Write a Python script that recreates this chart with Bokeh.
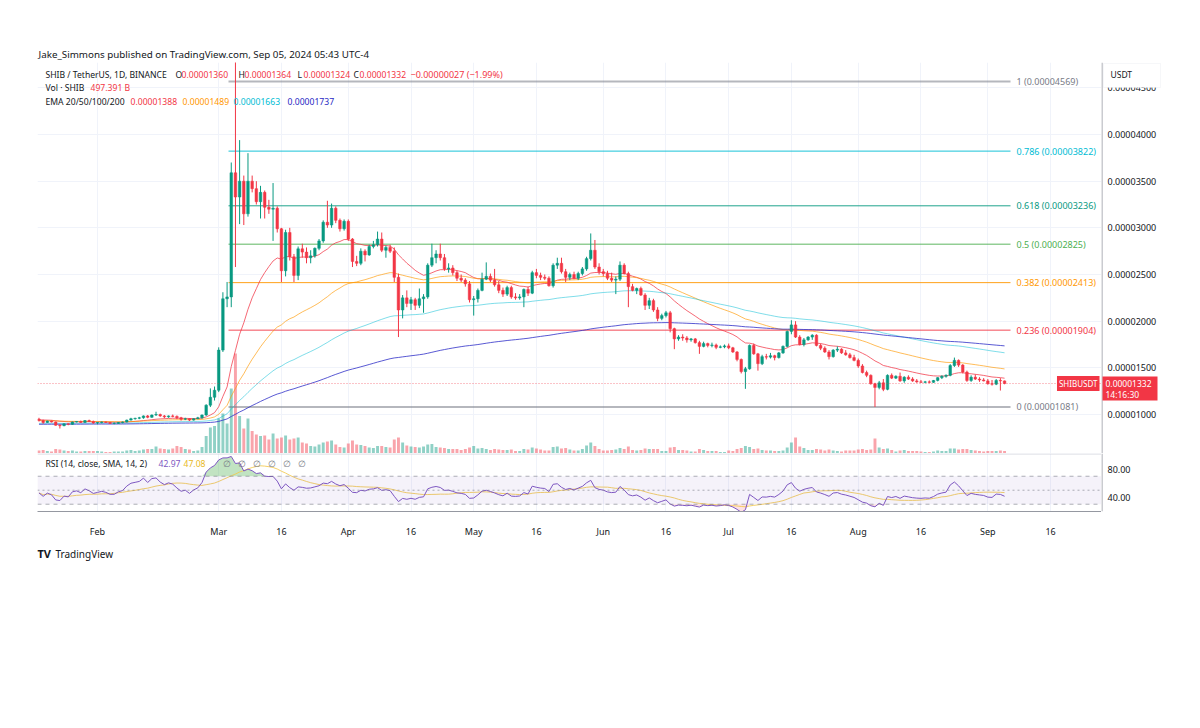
import numpy as np
import pandas as pd
from bokeh.plotting import figure
from bokeh.models import (Range1d, FixedTicker, Label, Span, BoxAnnotation, Grid,
                          ColumnDataSource)
from bokeh.core.properties import value
from bokeh.layouts import column, row
from bokeh.embed import file_html
from bokeh.resources import INLINE

S = 1e-8  # prices below are in units of 0.00000001 USDT

# ---------------- DATA (daily SHIB/USDT candles, O,H,L,C) ----------------
jan_ohlc = [(950,965,925,935),(935,945,900,915),(915,935,910,930),(930,935,915,920),(920,925,880,885),
            (885,895,850,880),(880,905,875,900),(900,905,885,895),(895,925,890,920),(920,930,915,925),
            (925,935,910,915),(915,940,910,935),(935,945,920,925),(925,935,900,910)]
feb_ohlc = [(910,920,895,915),(915,925,905,920),(920,925,910,915),(915,920,900,905),(905,915,895,905),
            (905,920,900,915),(915,925,905,920),(920,945,915,940),(940,965,935,955),(955,965,945,960),
            (960,975,950,965),(965,990,955,985),(985,995,960,970),(970,1000,965,995),(995,1030,985,1000),
            (1000,1010,975,985),(985,995,960,975),(975,990,965,985),(985,1000,970,980),(980,990,950,965),
            (965,975,935,950),(950,965,940,955),(955,960,930,940),(940,960,935,955),(955,975,950,965),
            (965,1000,955,995),(995,1110,985,1100),(1100,1280,1080,1185),(1185,1300,1150,1260)]
mar_ohlc = [(1260,1720,1240,1690),(1690,2310,1670,2240),(2240,2420,2150,2260),(2260,3700,2150,3590),
            (3590,4800,2580,3330),(3330,3940,3040,3500),(3500,3560,3030,3150),(3150,3800,3120,3500),
            (3500,3560,3380,3420),(3420,3500,3250,3280),(3280,3450,3100,3380),(3380,3400,3100,3220),
            (3220,3300,3150,3200),(3200,3480,2860,3210),(3210,3230,2950,2990),(2990,3000,2420,2540),
            (2540,2980,2480,2950),(2950,3000,2650,2690),(2690,2720,2420,2490),(2490,2800,2440,2775),
            (2775,2830,2680,2740),(2740,2790,2620,2680),(2680,2760,2620,2700),(2700,2790,2680,2780),
            (2780,2880,2760,2860),(2860,3080,2840,3060),(3060,3290,3000,3030),(3030,3260,3000,3210),
            (3210,3230,3050,3080),(3080,3100,2960,2990),(2990,3090,2970,3070)]
apr_ohlc = [(3070,3090,2860,2880),(2880,2890,2580,2640),(2640,2700,2590,2620),(2620,2780,2600,2750),
            (2750,2770,2640,2710),(2710,2820,2700,2800),(2800,2860,2780,2820),(2820,2960,2800,2880),
            (2880,2950,2740,2760),(2760,2810,2680,2790),(2790,2820,2730,2750),(2750,2790,2420,2470),
            (2470,2510,1830,2120),(2120,2280,2030,2250),(2250,2330,2150,2190),(2190,2260,2120,2230),
            (2230,2250,2120,2170),(2170,2350,2140,2240),(2240,2290,2090,2260),(2260,2620,2240,2600),
            (2600,2830,2580,2680),(2680,2760,2620,2720),(2720,2830,2650,2680),(2680,2720,2540,2560),
            (2560,2620,2520,2570),(2570,2600,2490,2520),(2520,2540,2430,2460),(2460,2500,2420,2440),
            (2440,2460,2370,2400),(2400,2430,2200,2230)]
may_ohlc = [(2230,2270,2060,2240),(2240,2350,2200,2330),(2330,2520,2320,2450),(2450,2630,2440,2480),
            (2480,2510,2420,2440),(2440,2560,2370,2390),(2390,2430,2300,2330),(2330,2360,2260,2290),
            (2290,2380,2270,2360),(2360,2380,2240,2260),(2260,2300,2230,2250),(2250,2290,2230,2260),
            (2260,2350,2150,2340),(2340,2370,2270,2300),(2300,2540,2290,2520),(2520,2560,2460,2490),
            (2490,2520,2440,2470),(2470,2500,2440,2460),(2460,2480,2370,2380),(2380,2620,2360,2600),
            (2600,2680,2560,2620),(2620,2680,2510,2530),(2530,2560,2420,2470),(2470,2520,2440,2500),
            (2500,2530,2450,2460),(2460,2530,2440,2510),(2510,2580,2490,2560),(2560,2690,2540,2670),
            (2670,2940,2650,2760),(2760,2870,2560,2580),(2580,2620,2500,2530)]
jun_ohlc = [(2530,2560,2480,2510),(2510,2540,2440,2460),(2460,2520,2420,2440),(2440,2480,2290,2450),
            (2450,2640,2430,2600),(2600,2620,2500,2510),(2510,2530,2150,2370),(2370,2400,2320,2330),
            (2330,2360,2290,2350),(2350,2370,2270,2280),(2280,2300,2120,2170),(2170,2250,2130,2220),
            (2220,2240,2100,2120),(2120,2150,2000,2030),(2030,2080,2010,2060),(2060,2110,2040,2090),
            (2090,2110,1880,1920),(1920,1930,1700,1810),(1810,1850,1790,1830),(1830,1860,1790,1820),
            (1820,1840,1770,1800),(1800,1820,1780,1810),(1810,1820,1760,1770),(1770,1790,1650,1730),
            (1730,1780,1720,1760),(1760,1770,1720,1740),(1740,1770,1720,1745),(1745,1760,1700,1720),
            (1720,1740,1710,1725),(1725,1750,1710,1735)]
jul_ohlc = [(1735,1760,1700,1715),(1715,1725,1660,1670),(1670,1680,1570,1590),(1590,1600,1440,1460),
            (1460,1510,1275,1490),(1490,1750,1480,1740),(1740,1760,1640,1650),(1650,1660,1470,1545),
            (1545,1640,1530,1620),(1620,1650,1590,1615),(1615,1660,1600,1630),(1630,1640,1580,1610),
            (1610,1670,1600,1660),(1660,1740,1650,1730),(1730,1900,1720,1890),(1890,2010,1860,1960),
            (1960,2000,1820,1830),(1830,1850,1740,1750),(1750,1820,1730,1800),(1800,1840,1790,1830),
            (1830,1860,1800,1850),(1850,1860,1730,1740),(1740,1760,1690,1710),(1710,1730,1660,1670),
            (1670,1690,1590,1620),(1620,1700,1610,1690),(1690,1730,1670,1700),(1700,1710,1650,1660),
            (1660,1690,1630,1640),(1640,1660,1600,1610),(1610,1640,1570,1580)]
aug_ohlc = [(1580,1600,1500,1520),(1520,1540,1440,1450),(1450,1470,1400,1420),(1420,1430,1320,1330),
            (1330,1340,1081,1290),(1290,1360,1270,1340),(1340,1380,1250,1270),(1270,1430,1260,1420),
            (1420,1440,1380,1390),(1390,1420,1380,1410),(1410,1450,1350,1360),(1360,1410,1340,1400),
            (1400,1420,1370,1380),(1380,1400,1350,1360),(1360,1380,1340,1350),(1350,1370,1340,1345),
            (1345,1360,1335,1350),(1350,1365,1335,1345),(1345,1370,1340,1365),(1365,1400,1355,1395),
            (1395,1420,1380,1410),(1410,1430,1395,1420),(1420,1540,1410,1525),(1525,1610,1510,1580),
            (1580,1590,1510,1530),(1530,1540,1440,1455),(1455,1470,1350,1365),(1365,1420,1350,1400),
            (1400,1430,1370,1380),(1380,1400,1350,1370),(1370,1390,1355,1360)]
sep_ohlc = [(1360,1380,1320,1330),(1330,1370,1310,1325),(1325,1380,1315,1365),(1365,1390,1257,1360),
            (1360,1364,1324,1332)]

# daily volume, billions of SHIB
jan_vol = [600,700,500,400,900,800,600,500,600,400,400,500,500,500]
feb_vol = [500,400,300,300,400,400,400,600,700,500,600,800,900,900,1400,1000,900,800,1000,1500,
           1300,900,800,500,600,1300,3500,5200,5500]
mar_vol = [7000,8000,6000,13000,20000,7500,5000,7000,4500,3800,3500,3600,2800,4000,3000,3200,3600,
           2800,3000,3200,2200,2000,1500,1400,1800,2200,2400,2600,1800,1300,1200]
apr_vol = [2000,2600,1800,1700,1500,1200,1100,1500,1500,1300,1200,2800,3200,2200,1600,1400,1300,
           1200,1400,1800,1900,1300,1200,1100,900,900,900,700,900,1200]
may_vol = [1500,1000,1100,900,700,900,800,700,700,800,500,500,900,800,1200,1000,800,600,600,1300,
           1400,1000,1100,800,600,600,900,1600,2200,1500,900]
jun_vol = [600,600,700,800,1100,900,1400,700,600,700,1000,900,900,900,500,500,1200,1300,700,700,
           600,400,400,900,700,500,500,500,300,300]
jul_vol = [600,500,900,1100,1500,1300,900,1000,700,600,600,500,500,600,1200,2200,3200,1400,1100,700,
           700,900,800,600,800,600,500,400,600,600,600]
aug_vol = [800,900,700,800,3000,1200,900,1000,700,400,600,700,500,500,500,400,300,300,400,600,
           500,500,1000,1000,800,900,900,700,600,500,400]
sep_vol = [500,500,500,600,497.391]

fib_ratios = ["1", "0.786", "0.618", "0.5", "0.382", "0.236", "0"]
fib_values = [4569, 3822, 3236, 2825, 2413, 1904, 1081]
fib_colors = ["#787b86", "#00bcd4", "#089981", "#4caf50", "#ff9800", "#f23645", "#787b86"]

tick_dates = ["2024-02-01", "2024-03-01", "2024-03-16", "2024-04-01", "2024-04-16", "2024-05-01",
              "2024-05-16", "2024-06-01", "2024-06-16", "2024-07-01", "2024-07-16", "2024-08-01",
              "2024-08-16", "2024-09-01", "2024-09-16"]
tick_labels = ["Feb", "Mar", "16", "Apr", "16", "May", "16", "Jun", "16", "Jul", "16", "Aug", "16",
               "Sep", "16"]
price_ticks = [1000, 1500, 2000, 2500, 3000, 3500, 4000, 4500]
rsi_ticks = [40, 80]

# ---------------- derived series ----------------
ohlc = jan_ohlc + feb_ohlc + mar_ohlc + apr_ohlc + may_ohlc + jun_ohlc + jul_ohlc + aug_ohlc + sep_ohlc
vol = jan_vol + feb_vol + mar_vol + apr_vol + may_vol + jun_vol + jul_vol + aug_vol + sep_vol
dates = pd.date_range("2024-01-18", periods=len(ohlc), freq="D")
origin = pd.Timestamp("2024-02-01")
day = np.array((dates - origin).days, dtype=float)
o = np.array([r[0] for r in ohlc], float)
h = np.array([r[1] for r in ohlc], float)
l = np.array([r[2] for r in ohlc], float)
c = np.array([r[3] for r in ohlc], float)
UPC, DNC = "#089981", "#f23645"
colors = [UPC if cc >= oo else DNC for oo, cc in zip(o, c)]


def ema(vals, n, seed):
    a = 2.0 / (n + 1)
    e, out = seed, []
    for v in vals:
        e = a * v + (1 - a) * e
        out.append(e)
    return np.array(out)


ema_specs = [(20, 945, "#f23645", 0.75), (50, 935, "#ff9800", 0.65),
             (100, 905, "#00bcd4", 0.5), (200, 895, "#3030c8", 0.8)]

# RSI 14 (Wilder) + SMA 14
g, ls = 6.0, 7.0
rsi = [100 - 100 / (1 + g / ls)]
for i in range(1, len(c)):
    ch = c[i] - c[i - 1]
    g = (g * 13 + max(ch, 0)) / 14
    ls = (ls * 13 + max(-ch, 0)) / 14
    rsi.append(100 - 100 / (1 + g / ls))
rsi = np.array(rsi)
rsi_sma = pd.Series(rsi).rolling(14, min_periods=1).mean().values

# ---------------- layout helpers (page pixels -> data) ----------------
X0_PX, PX_DAY = 97.0, 4.18
AX_X0 = 1101  # left edge of the price-scale column


def day_at(xp):
    return (xp - X0_PX) / PX_DAY


def price_at(yp):
    return (4000 - (yp - 134) * 500 / 46.67) * S


def rsi_at(yp):
    return 70 - (yp - 477.7) / 0.76


FONT = "Noto Sans"
TXT = "#131722"
HDR = "8.6px"
tick_days = [int((pd.Timestamp(t) - origin).days) for t in tick_dates]
COMMON = dict(output_backend="svg", toolbar_location=None)


def ptxt(fig, x, y, text, color=TXT, size=HDR, align="left", **kw):
    fig.add_layout(Label(x=x, y=y, text=text, text_color=color, text_font_size=size,
                         text_font=FONT, text_baseline="middle", text_align=align, **kw))


def clean(fig):
    fig.outline_line_color = None
    fig.xgrid.visible = False
    fig.ygrid.visible = False
    fig.background_fill_color = "white"
    fig.border_fill_color = "white"


# ---------------- main price pane ----------------
p = figure(width=AX_X0, height=453, x_range=Range1d(day_at(37), day_at(AX_X0)),
           y_range=Range1d(price_at(453), price_at(62)), x_axis_location=None,
           y_axis_location=None, min_border_left=37, min_border_right=0, min_border_top=62,
           min_border_bottom=0, title="Jake_Simmons published on TradingView.com, Sep 05, 2024 05:43 UTC-4",
           **COMMON)
clean(p)
p.title.align = "left"
p.title.offset = 1
p.title.standoff = 3
p.title.text_font = FONT
p.title.text_font_size = "9.8px"
p.title.text_font_style = "normal"
p.title.text_color = TXT
p.add_layout(Grid(dimension=0, ticker=FixedTicker(ticks=tick_days), grid_line_color="#f0f3fa"))
p.add_layout(Grid(dimension=1, ticker=FixedTicker(ticks=[t * S for t in price_ticks]),
                  grid_line_color="#f0f3fa"))

p.extra_y_ranges = {"vol": Range1d(0, 391 * 200)}
src = ColumnDataSource(dict(x=day, o=o * S, h=h * S, l=l * S, c=c * S,
                            top=np.maximum(o, c) * S, bottom=np.minimum(o, c) * S,
                            color=colors, vol=vol))
p.vbar(x="x", width=0.7, top="vol", bottom=0, fill_color="color", fill_alpha=0.45,
       line_color=None, y_range_name="vol", source=src)

FIB_X0, FIB_X1 = day_at(228), day_at(1010)
for ratio, val, col in zip(fib_ratios, fib_values, fib_colors):
    wide = ratio in ("0", "1")
    p.segment(x0=[FIB_X0], y0=[val * S], x1=[FIB_X1], y1=[val * S], line_color=col,
              line_width=2 if wide else 1, line_alpha=0.55 if wide else 0.9)
    ptxt(p, day_at(1016), val * S, f"{ratio} ({val * S:.8f})", color=col, size="9px")

for n, seed, col, al in ema_specs:
    p.line(day, ema(c, n, seed) * S, line_color=col, line_alpha=al, line_width=1)

p.segment(x0="x", y0="l", x1="x", y1="h", line_color="color", line_width=1, source=src)
p.vbar(x="x", width=0.62, top="top", bottom="bottom", fill_color="color", line_color="color",
       line_width=0.5, source=src)

p.add_layout(Span(location=c[-1] * S, dimension="width", line_color="#f23645", line_alpha=0.6,
                  line_dash="1 2", line_width=1))

Y = price_at
ptxt(p, day_at(45), Y(74), "SHIB / TetherUS, 1D, BINANCE")
for xp, letter, val in [(175, "O", "0.00001360"), (238, "H", "0.00001364"),
                        (297, "L", "0.00001324"), (353, "C", "0.00001332")]:
    ptxt(p, day_at(xp), Y(74), letter)
    ptxt(p, day_at(xp + 6), Y(74), val, color="#f23645")
ptxt(p, day_at(410), Y(74), "\u22120.00000027 (\u22121.99%)", color="#f23645", size="9px")
ptxt(p, day_at(45), Y(87), "Vol \u00b7 SHIB")
ptxt(p, day_at(90), Y(87), "497.391 B", color="#f23645")
ptxt(p, day_at(45), Y(101), "EMA 20/50/100/200")
for xp, val, col in [(130, "0.00001388", "#f23645"), (182, "0.00001489", "#ff9800"),
                     (233, "0.00001663", "#00bcd4"), (287, "0.00001737", "#2929c4")]:
    ptxt(p, day_at(xp), Y(101), val, color=col)
ptxt(p, day_at(1099), c[-1] * S, "SHIBUSDT", color="white", size="8px", align="right",
     background_fill_color="#f23645", padding=2)

# ---------------- price scale column ----------------
pa = figure(width=1192 - AX_X0, height=453, x_range=Range1d(0, 1192 - AX_X0), y_range=p.y_range,
            x_axis_location=None, y_axis_location=None, min_border_left=0, min_border_right=0,
            min_border_top=62, min_border_bottom=0, **COMMON)
clean(pa)
pa.text(x=[6] * len(price_ticks), y=[t * S for t in price_ticks],
        text=[f"{t * S:.8f}" for t in price_ticks], text_font=value(FONT),
        text_font_size=value("9px"), text_color=TXT, text_baseline="middle")
pa.add_layout(Span(location=0.5, dimension="height", line_color="#9598a1", line_width=1))
pa.add_layout(BoxAnnotation(left=1, right=56, top=Y(376), bottom=Y(400), fill_color="#f23645",
                            fill_alpha=1, line_color=None))
ptxt(pa, 4, Y(383), "0.00001332", color="white", size="8.5px")
ptxt(pa, 4, Y(394), "14:16:30", color="white", size="8.5px")
pa.add_layout(BoxAnnotation(left=2, right=59, top=Y(63), bottom=Y(87), fill_color="white",
                            fill_alpha=1, line_color="#e0e3eb", line_width=1))
ptxt(pa, 9, Y(74), "USDT", size="8.5px")

# ---------------- RSI pane ----------------
r = figure(width=AX_X0, height=87, x_range=p.x_range, y_range=Range1d(rsi_at(516), rsi_at(453)),
           y_axis_location=None, min_border_left=37, min_border_right=0, min_border_top=0,
           min_border_bottom=24, **COMMON)
clean(r)
r.add_layout(Grid(dimension=0, ticker=FixedTicker(ticks=tick_days), grid_line_color="#f0f3fa"))
r.xaxis.ticker = FixedTicker(ticks=tick_days)
r.xaxis.major_label_overrides = {d: t for d, t in zip(tick_days, tick_labels)}
r.xaxis.major_tick_line_color = None
r.xaxis.minor_tick_line_color = None
r.xaxis.axis_line_color = "#9598a1"
r.xaxis.major_label_text_font_size = "9px"
r.xaxis.major_label_text_font = FONT
r.xaxis.major_label_text_color = TXT
r.xaxis.major_label_standoff = 7

r.add_layout(BoxAnnotation(bottom=30, top=70, fill_color="#7e57c2", fill_alpha=0.08, line_color=None))
for lev, dash in [(70, "4 4"), (50, "2 3"), (30, "4 4")]:
    r.add_layout(Span(location=lev, dimension="width", line_color="#787b86", line_alpha=0.6,
                      line_dash=dash, line_width=1))
r.add_layout(Span(location=rsi_at(453.5), dimension="width", line_color="#d1d4dc", line_width=1))
r.varea(x=day, y1=70, y2=np.maximum(rsi, 70), fill_color="#4caf50", fill_alpha=0.35)
r.varea(x=day, y1=np.minimum(rsi, 30), y2=30, fill_color="#f23645", fill_alpha=0.15)
r.line(day, rsi_sma, line_color="#f2c94c", line_width=1, line_alpha=0.85)
r.line(day, rsi, line_color="#7e57c2", line_width=1)

ptxt(r, day_at(45), rsi_at(464), "RSI (14, close, SMA, 14, 2)")
ptxt(r, day_at(158), rsi_at(464), "42.97", color="#7e57c2")
ptxt(r, day_at(183), rsi_at(464), "47.08", color="#e8b923")
for xp in (222, 237, 252, 267, 282, 297):
    ptxt(r, day_at(xp), rsi_at(464), "\u2205", color="#787b86")

ra = figure(width=1192 - AX_X0, height=87, x_range=pa.x_range, y_range=r.y_range,
            x_axis_location=None, y_axis_location=None, min_border_left=0, min_border_right=0,
            min_border_top=0, min_border_bottom=24, **COMMON)
clean(ra)
ra.text(x=[6] * len(rsi_ticks), y=rsi_ticks, text=[f"{t:.2f}" for t in rsi_ticks],
        text_font=value(FONT), text_font_size=value("9px"), text_color=TXT, text_baseline="middle")
ra.add_layout(Span(location=0.5, dimension="height", line_color="#9598a1", line_width=1))

# ---------------- footer (logo) ----------------
ft = figure(width=1192, height=40, x_range=Range1d(0, 1192), y_range=Range1d(580, 540),
            x_axis_location=None, y_axis_location=None, min_border=0, **COMMON)
clean(ft)
ft.text(x=[37], y=[553], text=["TV"], text_font=value(FONT), text_font_size=value("11px"),
        text_font_style="bold", text_color="#131722", text_baseline="middle")
ft.text(x=[55], y=[553], text=["TradingView"], text_font=value(FONT),
        text_font_size=value("10px"), text_color="#131722", text_baseline="middle")

layout = column(row(p, pa, spacing=0), row(r, ra, spacing=0), ft, spacing=0)
open("out.html", "w").write(file_html(layout, INLINE))
